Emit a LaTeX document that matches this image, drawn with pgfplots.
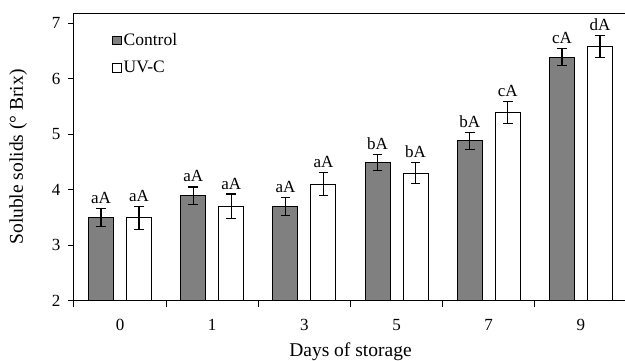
\documentclass[border=0pt]{standalone}
\usepackage{pgfplots}
\pgfplotsset{compat=1.18}
\usepackage{pgfplotstable}
\usepackage{fontspec}
\setmainfont{Liberation Serif}
\definecolor{barGray}{RGB}{128,128,128}
\pgfplotstableread{
x y err top lab
0 3.50 0.16 3.66 aA
1 3.89 0.16 4.05 aA
2 3.70 0.16 3.86 aA
3 4.49 0.15 4.64 bA
4 4.88 0.15 5.03 bA
5 6.39 0.15 6.54 cA
}\control
\pgfplotstableread{
x y err top lab
0 3.49 0.21 3.70 aA
1 3.70 0.22 3.92 aA
2 4.10 0.21 4.31 aA
3 4.30 0.19 4.49 bA
4 5.39 0.20 5.59 cA
5 6.58 0.20 6.78 dA
}\uvc
\begin{document}
\begin{tikzpicture}
\begin{axis}[
  at={(0,0)}, anchor=south west,
  scale only axis, width=553pt, height=287.5pt,
  xmin=-0.5, xmax=5.5, ymin=2, ymax=7.18,
  ybar, bar width=25pt,
  axis line style={line width=1pt},
  tick style={line width=1pt, black},
  tick align=outside,
  major tick length=6pt,
  xtick={-0.5,0.5,1.5,2.5,3.5,4.5,5.5},
  xticklabels={},
  extra x ticks={0,1,2,3,4,5},
  extra x tick labels={0,1,3,5,7,9},
  extra x tick style={major tick length=0pt, grid=none},
  xtick pos=bottom, ytick pos=left,
  ytick={2,3,4,5,6,7},
  tick label style={font=\fontsize{17}{20}\selectfont},
  /pgf/number format/assume math mode=true,
  x tick label style={anchor=center, yshift=-24pt},
  y tick label style={anchor=east, xshift=-4pt},
  every axis y label/.style={at={(axis description cs:-0.101,0.5)}, rotate=90, anchor=center},
  every axis x label/.style={at={(axis description cs:0.5,0)}, yshift=-51.5pt, anchor=center},
  xlabel={Days of storage},
  ylabel={Soluble solids (° Brix)},
  label style={font=\fontsize{19.5}{22}\selectfont},
  legend style={draw=none, fill=none, at={(axis description cs:0.069,0.937)}, anchor=north west,
    font=\fontsize{17.5}{20}\selectfont, row sep=10pt, inner sep=0pt,
    /tikz/every even column/.append style={column sep=2pt}},
  legend cell align=left,
  legend image code/.code={\draw[#1, line width=0.8pt] (0pt,-4.25pt) rectangle (8.5pt,4.25pt);},
  error bars/error bar style={line width=1.3pt, black},
  error bars/error mark options={rotate=90, mark size=4.8pt, line width=1.3pt, black},
]
\addplot[bar shift=-19pt, fill=barGray, draw=black, line width=1pt,
  error bars/.cd, y dir=both, y explicit]
  table[x=x, y=y, y error=err] {\control};
\addlegendentry{Control}
\addplot[bar shift=19pt, fill=white, draw=black, line width=1pt,
  error bars/.cd, y dir=both, y explicit]
  table[x=x, y=y, y error=err] {\uvc};
\addlegendentry{UV-C}
\addplot[bar shift=-19pt, draw=none, fill=none, forget plot, nodes near coords, point meta=explicit symbolic,
  nodes near coords style={anchor=base, yshift=5pt, inner sep=0pt, font=\fontsize{17}{20}\selectfont}]
  table[x=x, y=top, meta=lab] {\control};
\addplot[bar shift=19pt, draw=none, fill=none, forget plot, nodes near coords, point meta=explicit symbolic,
  nodes near coords style={anchor=base, yshift=5pt, inner sep=0pt, font=\fontsize{17}{20}\selectfont}]
  table[x=x, y=top, meta=lab] {\uvc};
\end{axis}
\pgfresetboundingbox
\path (-74pt,-60.3pt) rectangle (551pt,300.7pt);
\end{tikzpicture}
\end{document}
